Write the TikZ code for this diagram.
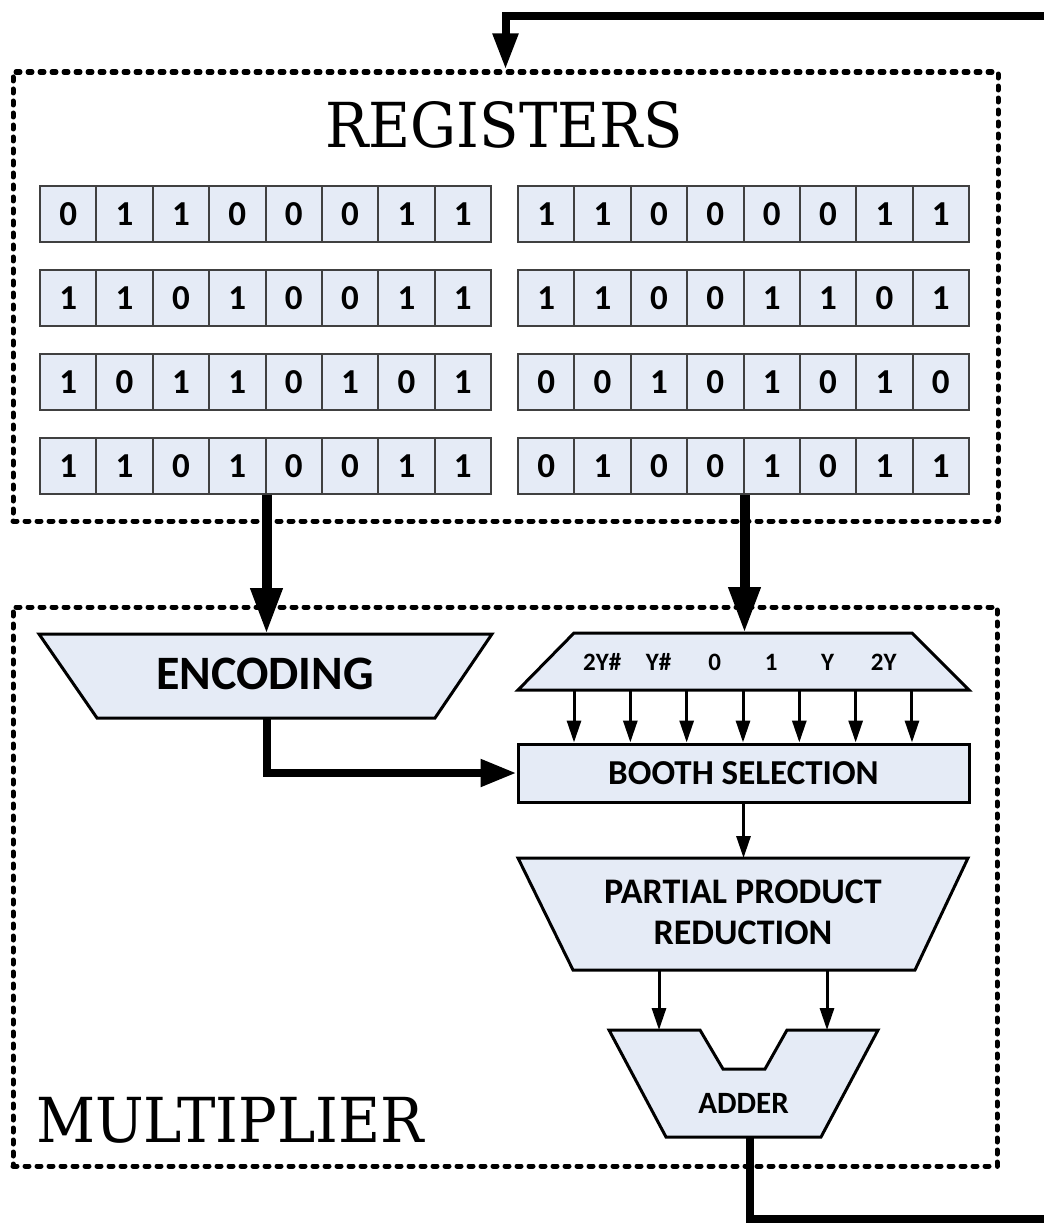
\documentclass[tikz,border=0pt]{standalone}
\usepackage{fontspec}
\newfontfamily\carl{Carlito}
\newfontfamily\ttlfont{DejaVu Serif}[FakeStretch=0.93]
\usetikzlibrary{arrows.meta}
\definecolor{boxfill}{RGB}{229,235,246}
\begin{document}
\begin{tikzpicture}[x=1pt,y=-1pt,
  cell/.style={draw=black!75, line width=2pt, fill=boxfill, minimum width=56.375pt,
    minimum height=56pt, inner sep=0pt, anchor=north west,
    font=\carl\bfseries\fontsize{35}{35}\selectfont},
  group/.style={draw, line width=5pt, dash pattern=on 4pt off 8pt, line cap=round,
    line join=round, inner sep=0pt},
  blk/.style={draw=black, line width=3pt, fill=boxfill, line join=miter},
  bigarrow/.style={line width=10pt, -{Triangle[width=30pt,length=46pt]}},
  midarrow/.style={line width=8pt, line join=miter, -{Triangle[width=26pt,length=36pt]}},
  thinarrow/.style={line width=3pt, -{Triangle[width=14pt,length=22pt]}},
  lbl/.style={font=\carl\bfseries\fontsize{35}{44}\selectfont, align=center, inner sep=0pt},
  title/.style={font=\ttlfont\fontsize{62}{62}\selectfont, inner sep=0pt},
]
\useasboundingbox (0,0) rectangle (1044,1223);

% group boxes
\node[group, minimum width=985pt, minimum height=449pt] (regbox) at (505.5,296.5) {};
\node[group, minimum width=984pt, minimum height=559pt] (mulbox) at (505,886.5) {};
\node[title, anchor=base] (regtitle) at (504,147) {REGISTERS};
\node[title, anchor=base west] (multitle) at (36,1142) {MULTIPLIER};

% registers
\foreach \r/\top/\lb/\rb in {
  1/185/{0,1,1,0,0,0,1,1}/{1,1,0,0,0,0,1,1},
  2/269/{1,1,0,1,0,0,1,1}/{1,1,0,0,1,1,0,1},
  3/353/{1,0,1,1,0,1,0,1}/{0,0,1,0,1,0,1,0},
  4/437/{1,1,0,1,0,0,1,1}/{0,1,0,0,1,0,1,1}}{
  \foreach \b [count=\c] in \lb {\node[cell] (L\r-\c) at ({39+(\c-1)*56.375},\top) {\b};}
  \foreach \b [count=\c] in \rb {\node[cell] (R\r-\c) at ({517+(\c-1)*56.375},\top) {\b};}
}

% encoding
\draw[blk] (39,634) -- (492,634) -- (435,718) -- (97,718) -- cycle;
\node[lbl, font=\carl\bfseries\fontsize{48}{48}\selectfont] (enc) at (265,674) {ENCODING};
\coordinate (encTop) at (265,634);
\coordinate (encBot) at (267,718);

% mux
\draw[blk] (574,633) -- (912,633) -- (969,690) -- (518,690) -- cycle;
\coordinate (muxTop) at (743,633);
\foreach \t [count=\k] in {2Y\#,Y\#,0,1,Y,2Y}{
  \node[lbl, font=\carl\bfseries\fontsize{25}{25}\selectfont] (mux\k) at ({574+(\k-0.5)*56.33},662) {\t};
}
\foreach \k in {0,...,6}{
  \coordinate (mo\k) at ({574+\k*56.33},690);
}

% booth selection
\node[blk, lbl, minimum width=451pt, minimum height=58pt] (booth) at (743.5,773) {BOOTH SELECTION};

% partial product reduction
\draw[blk] (518,858) -- (968,858) -- (915,970) -- (573,970) -- cycle;
\node[lbl, font=\carl\bfseries\fontsize{36}{41}\selectfont] (ppr) at (743,912) {PARTIAL PRODUCT\\REDUCTION};
\coordinate (pprTop) at (743.5,858);
\coordinate (pprA) at (659,970);
\coordinate (pprB) at (827,970);

% adder
\draw[blk] (609,1030) -- (700,1030) -- (723,1069) -- (765,1069) -- (787,1030) -- (878,1030)
  -- (821,1137) -- (666,1137) -- cycle;
\node[lbl, font=\carl\bfseries\fontsize{31}{31}\selectfont] (adder) at (743.5,1103) {ADDER};
\coordinate (addA) at (659,1030);
\coordinate (addB) at (827,1030);
\coordinate (addOut) at (750,1137);
\coordinate (outEnd) at (1044,1219);
\coordinate (inStart) at (1044,16);

% connectors
\draw[line width=8pt, line join=miter, -{Triangle[width=24pt,length=36pt]}] (inStart) -| (regbox.north);
\draw[bigarrow] (L4-4.south east) -- (L4-4.south east |- encTop);
\draw[bigarrow] (R4-4.south east) -- (R4-4.south east |- muxTop);
\draw[midarrow] (encBot) |- (booth.west);
\foreach \k in {0,...,6}{
  \draw[thinarrow] (mo\k) -- (mo\k |- booth.north);
}
\draw[thinarrow] (booth.south) -- (pprTop);
\draw[thinarrow] (pprA) -- (addA);
\draw[thinarrow] (pprB) -- (addB);
\draw[line width=8pt, line join=miter] (addOut) |- (outEnd);
\end{tikzpicture}
\end{document}
